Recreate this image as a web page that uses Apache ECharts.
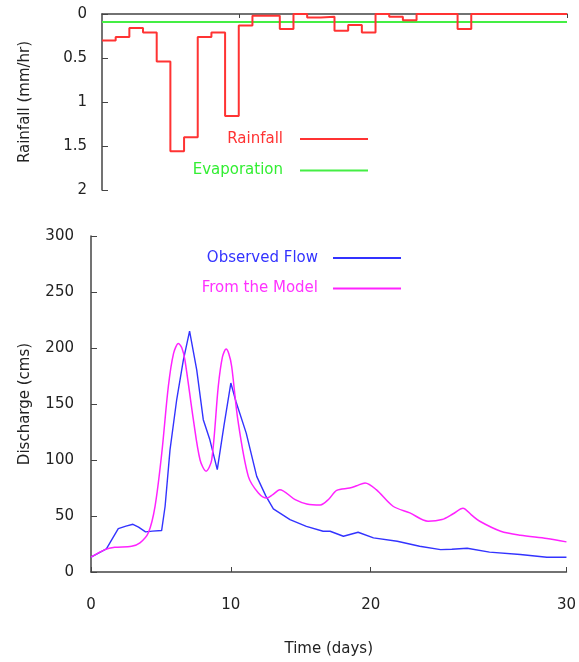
<!DOCTYPE html>
<html><head><meta charset="utf-8">
<script src="https://cdn.jsdelivr.net/npm/echarts@6/dist/echarts.min.js"></script>
<style>html,body{margin:0;padding:0;background:#fff}#c{width:579px;height:662px}</style>
</head><body><div id="c"></div>
<script>
// Daily rainfall (mm/hr), one value per day starting at day 0
const rainfall = [0.30,0.26,0.16,0.21,0.54,1.56,1.40,0.26,0.21,1.16,0.13,0.02,0.02,0.17,0,0.04,0.03,0.19,0.125,0.21,0,0.03,0.07,0,0,0,0.17,0,0,0,0,0,0,0];
const evaporation = 0.09;
const evapDays = [0, 34];
// Bottom panel
const obsDays = [0,1.1,1.95,2.5,3.0,3.4,3.9,4.4,5.05,5.3,5.65,6.13,6.6,7.05,7.56,8.03,8.5,9.03,9.5,10.0,10.37,11.1,11.85,12.5,13.04,14.23,15.4,16.6,17.1,18.05,19.1,20.2,21.9,23.5,25.0,25.8,26.9,28.5,30.7,32.6,34];
const obsFlow = [13.2,20.7,38.8,41,42.6,40,35.8,36.5,37,58.7,109,154,189,215,180.5,136,118,91.4,130,168.7,152,124,85.4,68,56.3,46.8,40.8,36.4,36.4,31.9,35.5,30.5,27.5,23,20,20.3,21.2,17.7,15.6,13.2,13.2];
const modelDays = [0,1.0,1.7,2.9,3.5,4.1,4.58,5.06,5.53,5.9,6.25,6.5,6.72,7.32,7.8,8.23,8.63,9.1,9.4,9.66,9.85,10.06,10.5,11.25,11.97,12.57,13.0,13.5,14.6,15.43,16.4,17.0,17.57,18.5,19.0,19.6,20.4,21.6,22.8,24.1,25.1,25.9,26.6,27.2,27.8,29.3,30.7,32.6,34];
const modelFlow = [13.2,20,22,23,26,35,58.7,106,165.6,195,204,200,189,136,100,90,100,165.6,192,199,195,183.5,136,85.4,70.6,66,69,73.5,64.6,60.8,59.9,65,72.9,75,77,79.5,73.5,58.7,52.8,45.3,46.8,52,56.9,51,45.3,36.4,32.8,29.9,26.9];
// Axis ticks
const xTickValues = [0,10,20,34];
const xTickLabels = ['0','10','20','30'];

const FONT = 'DejaVu Sans';
const AX = '#444';
const rainData = rainfall.map((v,i)=>[i,v]).concat([[rainfall.length, rainfall[rainfall.length-1]]]);
const evapData = evapDays.map(d=>[d, evaporation]);
const obsData = obsDays.map((d,i)=>[d, obsFlow[i]]);
const modelData = modelDays.map((d,i)=>[d, modelFlow[i]]);

const chart = echarts.init(document.getElementById('c'), null, {renderer:'canvas'});
const axisLab = {color:'#222', fontFamily:FONT, fontSize:15};
chart.setOption({
  animation:false,
  backgroundColor:'#fff',
  grid:[
    {left:102, right:12, top:14, height:176},
    {left:91, right:12, top:236, height:336.5}
  ],
  xAxis:[
    {type:'value', gridIndex:0, position:'top', min:0, max:34,
     axisLine:{show:true, onZero:false, lineStyle:{color:AX, width:1.5}},
     axisTick:{show:true, inside:true, length:4, customValues:[10,20,34], lineStyle:{color:AX}},
     axisLabel:{show:false}, splitLine:{show:false}},
    {type:'value', gridIndex:1, min:0, max:34, name:'Time (days)', nameLocation:'middle', nameGap:70,
     nameTextStyle:{color:'#222', fontFamily:FONT, fontSize:15},
     axisLine:{show:true, onZero:false, lineStyle:{color:AX, width:1.5}},
     axisTick:{show:true, inside:true, length:5, customValues:xTickValues, lineStyle:{color:AX}},
     axisLabel:Object.assign({margin:26, customValues:xTickValues, formatter:v=>xTickLabels[xTickValues.indexOf(v)]}, axisLab),
     splitLine:{show:false}}
  ],
  yAxis:[
    {type:'value', gridIndex:0, inverse:true, min:0, max:2, interval:0.5,
     name:'Rainfall (mm/hr)', nameLocation:'middle', nameGap:69,
     nameTextStyle:{color:'#222', fontFamily:FONT, fontSize:15},
     axisLine:{show:true, onZero:false, lineStyle:{color:AX, width:1.5}},
     axisTick:{show:true, inside:true, length:6, lineStyle:{color:AX}},
     axisLabel:Object.assign({margin:15}, axisLab), splitLine:{show:false}},
    {type:'value', gridIndex:1, min:0, max:300, interval:50,
     name:'Discharge (cms)', nameLocation:'middle', nameGap:58,
     nameTextStyle:{color:'#222', fontFamily:FONT, fontSize:15},
     axisLine:{show:true, onZero:false, lineStyle:{color:AX, width:1.5}},
     axisTick:{show:true, inside:true, length:6, lineStyle:{color:AX}},
     axisLabel:Object.assign({margin:17}, axisLab), splitLine:{show:false}}
  ],
  legend:[
    {data:[{name:'Rainfall', textStyle:{color:'#ff3333'}},{name:'Evaporation', textStyle:{color:'#33ee33'}}],
     orient:'vertical', align:'right', right:211, top:131, padding:0, itemWidth:68, itemHeight:2, itemGap:15.5,
     icon:'rect', selectedMode:false,
     textStyle:{fontFamily:FONT, fontSize:15, lineHeight:16, padding:[0,12,0,0]}},
    {data:[{name:'Observed Flow', textStyle:{color:'#3333ff'}},{name:'From the Model', textStyle:{color:'#ff33ff'}}],
     orient:'vertical', align:'right', right:178, top:250, padding:0, itemWidth:68, itemHeight:2, itemGap:14.6,
     icon:'rect', selectedMode:false,
     textStyle:{fontFamily:FONT, fontSize:15, lineHeight:16, padding:[0,10,0,0]}}
  ],
  series:[
    {name:'Rainfall', type:'line', xAxisIndex:0, yAxisIndex:0, step:'end', data:rainData, symbol:'none',
     color:'#ff3333', lineStyle:{color:'#ff3333', width:2}, z:3},
    {name:'Evaporation', type:'line', xAxisIndex:0, yAxisIndex:0, data:evapData, symbol:'none',
     color:'#44ee44', lineStyle:{color:'#44ee44', width:2}, z:2},
    {name:'Observed Flow', type:'line', xAxisIndex:1, yAxisIndex:1, data:obsData, symbol:'none',
     color:'#3333ff', lineStyle:{color:'#3333ff', width:1.4}},
    {name:'From the Model', type:'line', xAxisIndex:1, yAxisIndex:1, data:modelData, symbol:'none',
     smooth:0.3,
     color:'#ff22ff', lineStyle:{color:'#ff22ff', width:1.5}}
  ]
});
</script></body></html>
